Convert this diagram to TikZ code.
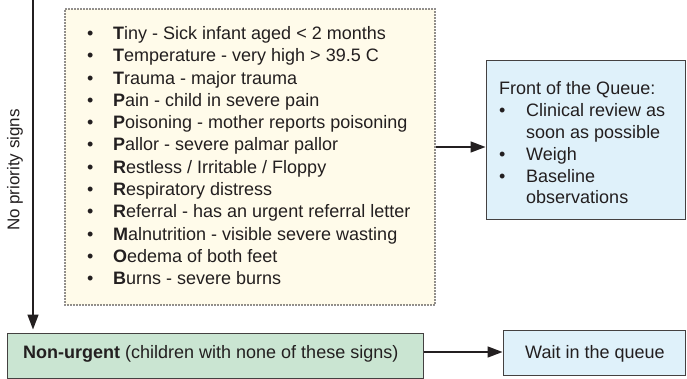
\documentclass[tikz,border=0pt]{standalone}
\usepackage{fontspec}
\setmainfont{Liberation Sans}
\usetikzlibrary{arrows.meta}
\definecolor{ink}{HTML}{231F20}
\definecolor{cream}{HTML}{FFFBEA}
\definecolor{paleblue}{HTML}{DFF1FA}
\definecolor{palegreen}{HTML}{CAE5D2}
\begin{document}
\begin{tikzpicture}[x=1pt,y=-1pt,
  every node/.style={text=ink},
  dotbox/.style={draw=ink, fill=cream, line width=1.8pt, line cap=round,
    dash pattern=on 0pt off 3pt, inner sep=0pt},
  solidbox/.style={draw=ink!85, line width=1pt, inner sep=0pt},
  txt/.style={inner sep=0pt, anchor=base west, font=\fontsize{18}{22.3}\selectfont},
  flow/.style={draw=ink, line width=1.5pt, -{Triangle[length=15pt,width=11pt]}}]
\useasboundingbox (0,0) rectangle (687,379);

% boxes
\node[dotbox, minimum width=370pt, minimum height=296pt] (signs) at (250,157) {};
\node[solidbox, fill=paleblue, minimum width=199pt, minimum height=159pt] (front) at (585.5,140.5) {};
\node[solidbox, fill=palegreen, minimum width=416pt, minimum height=45pt] (nonurgent) at (215,355.5) {};
\node[solidbox, fill=paleblue, minimum width=182pt, minimum height=45pt] (wait) at (594,352.5) {};

% priority signs list
\node[txt] (signlist) at (87,39.5) {%
  \begin{tabular}[t]{@{}p{26pt}@{}l@{}}
  • & \textbf{T}iny - Sick infant aged < 2 months\\
  • & \textbf{T}emperature - very high > 39.5 C\\
  • & \textbf{T}rauma - major trauma\\
  • & \textbf{P}ain - child in severe pain\\
  • & \textbf{P}oisoning - mother reports poisoning\\
  • & \textbf{P}allor - severe palmar pallor\\
  • & \textbf{R}estless / Irritable / Floppy\\
  • & \textbf{R}espiratory distress\\
  • & \textbf{R}eferral - has an urgent referral letter\\
  • & \textbf{M}alnutrition - visible severe wasting\\
  • & \textbf{O}edema of both feet\\
  • & \textbf{B}urns - severe burns
  \end{tabular}};

% front of the queue
\node[txt, font=\fontsize{18}{21.9}\selectfont] (frontlist) at (499,94.5) {%
  \begin{tabular}[t]{@{}p{27pt}@{}l@{}}
  \multicolumn{2}{@{}l@{}}{Front of the Queue:}\\
  • & Clinical review as\\
    & soon as possible\\
  • & Weigh\\
  • & Baseline\\
    & observations
  \end{tabular}};

\node[txt] (nonurgenttext) at (23,358.5) {\textbf{Non-urgent} (children with none of these signs)};
\node[txt] (waittext) at (525,358.5) {Wait in the queue};

% connectors
\coordinate (start) at (33,0);
\draw[flow, shorten >=3pt] (start) -- (start |- nonurgent.north);
\node[rotate=90, inner sep=0pt, font=\fontsize{17}{20}\selectfont] (nopriority) at (15,170) {No priority signs};
\draw[flow] (signs.east |- 0,147) -- (front.west |- 0,147);
\draw[flow] (nonurgent.east |- 0,352) -- (wait.west |- 0,352);
\end{tikzpicture}
\end{document}
